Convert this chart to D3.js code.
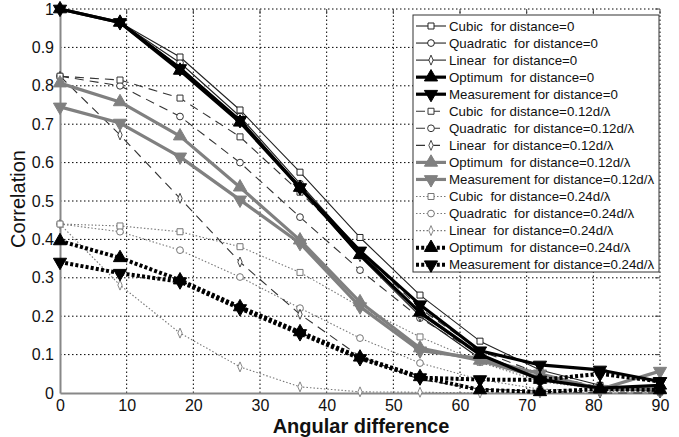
<!DOCTYPE html>
<html>
<head>
<meta charset="utf-8">
<script src="https://cdn.jsdelivr.net/npm/d3@7"></script>
<style>
  html, body { margin: 0; padding: 0; background: #fff; }
  svg { display: block; font-family: "Liberation Sans", Arial, sans-serif; }
  text { white-space: pre; }
</style>
</head>
<body>
<svg id="chart" width="679" height="437"></svg>
<script>
// ---------- data ----------
const angles = [0, 9, 18, 27, 36, 45, 54, 63, 72, 81, 90];

const cubic0        = [1.00, 0.965, 0.875, 0.737, 0.575, 0.405, 0.255, 0.135, 0.060, 0.020, 0.010];
const quadratic0    = [1.00, 0.965, 0.860, 0.720, 0.545, 0.370, 0.205, 0.100, 0.040, 0.015, 0.005];
const linear0       = [1.00, 0.965, 0.850, 0.710, 0.535, 0.355, 0.200, 0.090, 0.035, 0.010, 0.005];
const optimum0      = [1.00, 0.965, 0.840, 0.705, 0.535, 0.360, 0.210, 0.100, 0.035, 0.013, 0.020];
const measurement0  = [1.00, 0.965, 0.845, 0.710, 0.535, 0.370, 0.230, 0.110, 0.073, 0.060, 0.030];

const cubic12       = [0.825, 0.815, 0.768, 0.667, 0.523, 0.370, 0.220, 0.110, 0.050, 0.015, 0.005];
const quadratic12   = [0.825, 0.800, 0.720, 0.600, 0.458, 0.320, 0.195, 0.100, 0.040, 0.015, 0.005];
const linear12      = [0.825, 0.672, 0.507, 0.341, 0.205, 0.095, 0.035, 0.010, 0.005, 0.000, 0.000];
const optimum12     = [0.807, 0.758, 0.669, 0.536, 0.398, 0.237, 0.117, 0.085, 0.040, 0.010, 0.010];
const measurement12 = [0.745, 0.703, 0.615, 0.503, 0.390, 0.225, 0.110, 0.090, 0.050, 0.010, 0.057];

const cubic24       = [0.440, 0.435, 0.420, 0.381, 0.314, 0.225, 0.146, 0.080, 0.030, 0.010, 0.005];
const quadratic24   = [0.440, 0.420, 0.372, 0.302, 0.221, 0.143, 0.078, 0.035, 0.010, 0.005, 0.000];
const linear24      = [0.440, 0.281, 0.156, 0.068, 0.016, 0.003, 0.002, 0.000, 0.000, 0.000, 0.000];
const optimum24     = [0.396, 0.352, 0.294, 0.224, 0.159, 0.093, 0.042, 0.008, 0.003, 0.010, 0.008];
const measurement24 = [0.341, 0.312, 0.290, 0.220, 0.155, 0.090, 0.040, 0.035, 0.034, 0.050, 0.030];

const seriesNames = [
  "Cubic  for distance=0", "Quadratic  for distance=0", "Linear  for distance=0",
  "Optimum  for distance=0", "Measurement for distance=0",
  "Cubic  for distance=0.12d/\u03bb", "Quadratic  for distance=0.12d/\u03bb", "Linear  for distance=0.12d/\u03bb",
  "Optimum  for distance=0.12d/\u03bb", "Measurement for distance=0.12d/\u03bb",
  "Cubic  for distance=0.24d/\u03bb", "Quadratic  for distance=0.24d/\u03bb", "Linear  for distance=0.24d/\u03bb",
  "Optimum  for distance=0.24d/\u03bb", "Measurement for distance=0.24d/\u03bb"
];
const seriesValues = [cubic0, quadratic0, linear0, optimum0, measurement0,
                      cubic12, quadratic12, linear12, optimum12, measurement12,
                      cubic24, quadratic24, linear24, optimum24, measurement24];

const xTicks = [0, 10, 20, 30, 40, 50, 60, 70, 80, 90];
const yTicks = [0, 0.1, 0.2, 0.3, 0.4, 0.5, 0.6, 0.7, 0.8, 0.9, 1];
const yTickLabels = ["0", "0.1", "0.2", "0.3", "0.4", "0.5", "0.6", "0.7", "0.8", "0.9", "1"];

// ---------- styles ----------
const thinStyle = (color, dash, marker) => ({color, width: 1.1, dash, marker, msize: 36, fill: "#fff", mstroke: color});
const thickStyle = (color, dash, marker) => ({color, width: 3.2, dash, marker, msize: 75, fill: color, mstroke: color});
const styles = [
  thinStyle("#222", null, "square"), thinStyle("#222", null, "circle"), thinStyle("#222", null, "diamond"),
  thickStyle("#000", null, "up"), thickStyle("#000", null, "down"),
  thinStyle("#333", "9,6", "square"), thinStyle("#333", "9,6", "circle"), thinStyle("#333", "9,6", "diamond"),
  thickStyle("#808080", null, "up"), thickStyle("#808080", null, "down"),
  thinStyle("#777", "1.5,2", "square"), thinStyle("#777", "1.5,2", "circle"), thinStyle("#777", "1.5,2", "diamond"),
  thickStyle("#000", "3,2.2", "up"), thickStyle("#000", "3,2.2", "down")
];
styles[13].width = 4; styles[14].width = 4;

// ---------- chart ----------
const svg = d3.select("#chart");
const x = d3.scaleLinear().domain([0, 90]).range([60, 660]);
const y = d3.scaleLinear().domain([0, 1]).range([393, 9]);

// grid
const grid = svg.append("g");
grid.selectAll("line.vx").data(xTicks.filter(d => d > 0)).join("line")
  .attr("x1", d => x(d)).attr("x2", d => x(d)).attr("y1", y(0)).attr("y2", y(1))
  .attr("stroke", "#000").attr("stroke-width", 1).attr("stroke-dasharray", "1.5,2.5");
grid.selectAll("line.hy").data(yTicks.filter(d => d > 0)).join("line")
  .attr("x1", x(0)).attr("x2", x(90)).attr("y1", d => y(d)).attr("y2", d => y(d))
  .attr("stroke", "#000").attr("stroke-width", 1).attr("stroke-dasharray", "1.5,2.5");
// inner ticks on top / right
grid.selectAll("line.tt").data(xTicks).join("line")
  .attr("x1", d => x(d)).attr("x2", d => x(d)).attr("y1", y(1)).attr("y2", y(1) + 5)
  .attr("stroke", "#444").attr("stroke-width", 1);
grid.selectAll("line.tr").data(yTicks).join("line")
  .attr("x1", x(90) - 5).attr("x2", x(90)).attr("y1", d => y(d)).attr("y2", d => y(d))
  .attr("stroke", "#444").attr("stroke-width", 1);

// axes
const xAxis = d3.axisBottom(x).tickValues(xTicks).tickSize(0).tickPadding(6);
const yAxis = d3.axisLeft(y).tickValues(yTicks).tickSize(0).tickPadding(6)
  .tickFormat((d, i) => yTickLabels[i]);
const gx = svg.append("g").attr("transform", `translate(0,${y(0)})`).call(xAxis);
const gy = svg.append("g").attr("transform", `translate(${x(0)},0)`).call(yAxis);
[gx, gy].forEach(g => {
  g.select(".domain").attr("stroke", "#888").attr("stroke-width", 2);
  g.selectAll("text").attr("font-size", 16).attr("fill", "#111")
    .attr("font-family", "Liberation Sans, Arial, sans-serif");
});
gx.selectAll("text").attr("dy", "0.72em");

// series
const line = d3.line().x((d, i) => x(angles[i])).y(d => y(d));
const symbolFor = m => m === "square" ? d3.symbolSquare : m === "circle" ? d3.symbolCircle :
  m === "diamond" ? d3.symbolDiamond : d3.symbolTriangle;

const drawOrder = [12, 11, 10, 7, 6, 5, 2, 1, 0, 8, 9, 13, 14, 3, 4];
drawOrder.forEach(si => {
  const st = styles[si], vals = seriesValues[si];
  const g = svg.append("g");
  g.append("path").datum(vals).attr("d", line).attr("fill", "none")
    .attr("stroke", st.color).attr("stroke-width", st.width)
    .attr("stroke-dasharray", st.dash).attr("stroke-linejoin", "round");
  const sym = d3.symbol().type(symbolFor(st.marker)).size(st.marker === "diamond" ? st.msize * 0.8 : st.msize);
  g.selectAll("path.m").data(vals).join("path")
    .attr("d", sym)
    .attr("transform", (d, i) => `translate(${x(angles[i])},${y(d)})${st.marker === "down" ? " rotate(180)" : ""}${st.marker === "diamond" ? " scale(0.75,1)" : ""}`)
    .attr("fill", st.fill).attr("stroke", st.mstroke).attr("stroke-width", 1);
});

// axis titles
svg.append("text").attr("x", 361).attr("y", 433).attr("text-anchor", "middle")
  .attr("font-size", 20).attr("font-weight", "bold").attr("fill", "#111").text("Angular difference");
svg.append("text").attr("transform", "translate(25,199) rotate(-90)").attr("text-anchor", "middle")
  .attr("font-size", 20).attr("fill", "#111").text("Correlation");

// legend
const lg = svg.append("g");
const lx = 413, ly = 15, rowH = 17.05;
lg.append("rect").attr("x", lx).attr("y", ly).attr("width", 246).attr("height", 257)
  .attr("fill", "#fff").attr("stroke", "#333").attr("stroke-width", 1);
seriesNames.forEach((name, i) => {
  const st = styles[i];
  const cy = ly + 11 + i * rowH;
  lg.append("line").attr("x1", lx + 3).attr("x2", lx + 33).attr("y1", cy).attr("y2", cy)
    .attr("stroke", st.color).attr("stroke-width", st.width).attr("stroke-dasharray", st.dash);
  const sym = d3.symbol().type(symbolFor(st.marker)).size(st.marker === "diamond" ? st.msize * 0.8 : st.msize);
  lg.append("path").attr("d", sym)
    .attr("transform", `translate(${lx + 18},${cy})${st.marker === "down" ? " rotate(180)" : ""}${st.marker === "diamond" ? " scale(0.75,1)" : ""}`)
    .attr("fill", st.fill).attr("stroke", st.mstroke).attr("stroke-width", 1);
  lg.append("text").attr("x", lx + 36).attr("y", cy).attr("dy", "0.35em")
    .attr("font-size", 13.3).attr("fill", "#111").text(name);
});
</script>
</body>
</html>
